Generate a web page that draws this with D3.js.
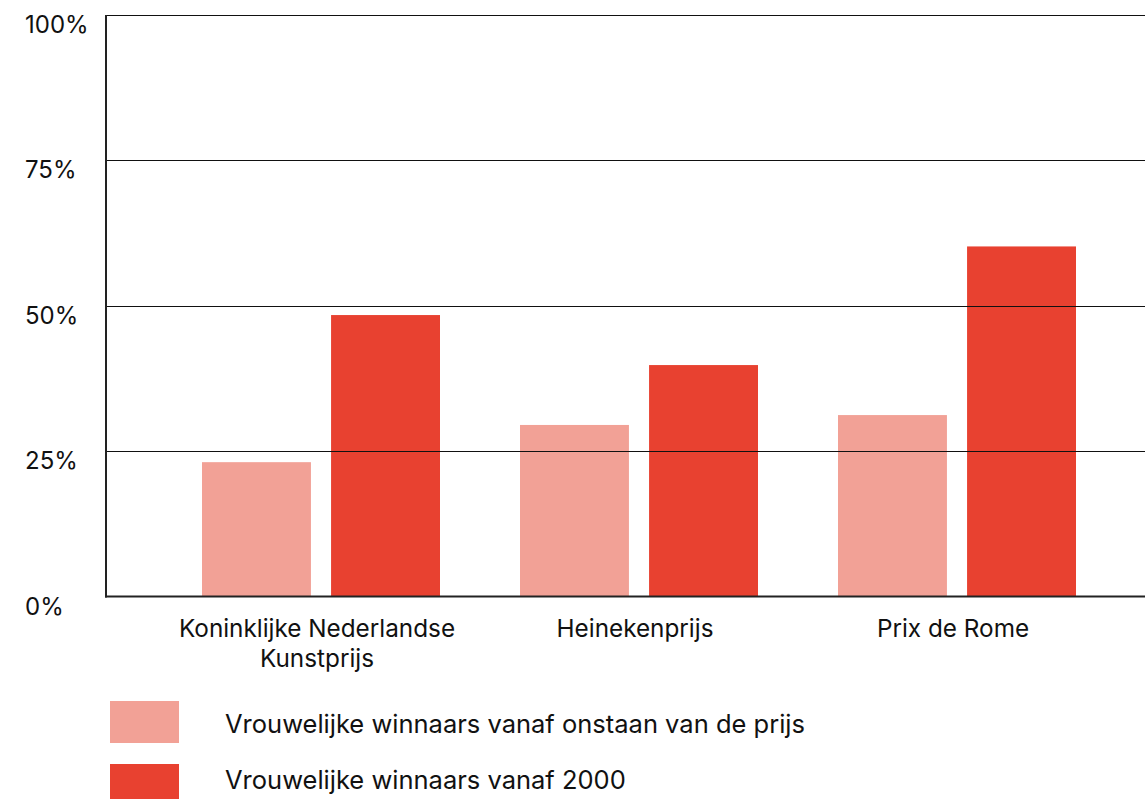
<!DOCTYPE html>
<html>
<head>
<meta charset="utf-8">
<script src="https://cdn.jsdelivr.net/npm/d3@7"></script>
<style>
  body { margin: 0; background: #fff; }
  svg text { font-family: Inter, "Noto Sans", sans-serif; fill: #111; }
</style>
</head>
<body>
<div id="chart"></div>
<script>
// data
var prizes = [["Koninklijke Nederlandse", "Kunstprijs"], ["Heinekenprijs"], ["Prix de Rome"]];
var seriesNames = ["Vrouwelijke winnaars vanaf onstaan van de prijs", "Vrouwelijke winnaars vanaf 2000"];
var sinceStart = [23.1, 29.5, 31.2];
var since2000 = [48.4, 39.8, 60.2];
var yTicks = [0, 25, 50, 75, 100];
var colors = ["#f2a196", "#e84130"];

var width = 1145, height = 799;
var svg = d3.select("#chart").append("svg")
    .attr("width", width)
    .attr("height", height);

var keys = prizes.map(function (p) { return p.join(" "); });

var y = d3.scaleLinear().domain([0, 100]).range([596.5, 15]);
var x = d3.scaleBand().domain(keys).range([162, 1116]).padding(0);
var xInner = d3.scaleBand().domain([0, 1]).range([0, 238]).paddingInner(0.156);

var rows = keys.map(function (k, i) {
    return {key: k, values: [sinceStart[i], since2000[i]]};
});

// bars
var groups = svg.selectAll(".group").data(rows)
    .enter().append("g")
    .attr("class", "group")
    .attr("transform", function (d) {
        return "translate(" + (x(d.key) + x.bandwidth() / 2 - 119) + ",0)";
    });

groups.selectAll("rect")
    .data(function (d) { return d.values; })
    .enter().append("rect")
    .attr("x", function (d, i) { return xInner(i); })
    .attr("width", xInner.bandwidth())
    .attr("y", function (d) { return y(d); })
    .attr("height", function (d) { return y(0) - y(d); })
    .attr("fill", function (d, i) { return colors[i]; });

// gridlines on top of the bars
svg.selectAll(".grid").data(yTicks.filter(function (t) { return t > 0; }))
    .enter().append("line")
    .attr("class", "grid")
    .attr("x1", 106).attr("x2", width)
    .attr("y1", function (d) { return Math.round(y(d)) + 0.5; })
    .attr("y2", function (d) { return Math.round(y(d)) + 0.5; })
    .attr("stroke", "#111")
    .attr("stroke-width", 1);

// axes lines
svg.append("line")
    .attr("x1", 106).attr("x2", 106)
    .attr("y1", y(100)).attr("y2", y(0) + 1)
    .attr("stroke", "#222").attr("stroke-width", 2);
svg.append("line")
    .attr("x1", 105).attr("x2", width)
    .attr("y1", y(0)).attr("y2", y(0))
    .attr("stroke", "#222").attr("stroke-width", 2);

// y labels
svg.selectAll(".ylab").data(yTicks)
    .enter().append("text")
    .attr("class", "ylab")
    .attr("x", 25)
    .attr("y", function (d) { return y(d) + 18; })
    .attr("font-size", "24px")
    .text(function (d) { return d + "%"; });

// x labels
var xl = svg.selectAll(".xlab").data(rows)
    .enter().append("text")
    .attr("class", "xlab")
    .attr("text-anchor", "middle")
    .attr("font-size", "24.3px")
    .attr("transform", function (d) {
        return "translate(" + (x(d.key) + x.bandwidth() / 2 - 4) + ",637)";
    });
xl.selectAll("tspan")
    .data(function (d, i) { return prizes[i]; })
    .enter().append("tspan")
    .attr("x", 0)
    .attr("dy", function (d, i) { return i == 0 ? 0 : 29.5; })
    .text(function (d) { return d; });

// legend
var legend = svg.selectAll(".legend").data(seriesNames)
    .enter().append("g")
    .attr("class", "legend");
legend.append("rect")
    .attr("x", 110)
    .attr("y", function (d, i) { return 701 + i * 63; })
    .attr("width", 69)
    .attr("height", 42)
    .attr("fill", function (d, i) { return colors[i]; });
legend.append("text")
    .attr("x", 225)
    .attr("y", function (d, i) { return 733 + i * 56; })
    .attr("font-size", "25.5px")
    .text(function (d) { return d; });
</script>
</body>
</html>
